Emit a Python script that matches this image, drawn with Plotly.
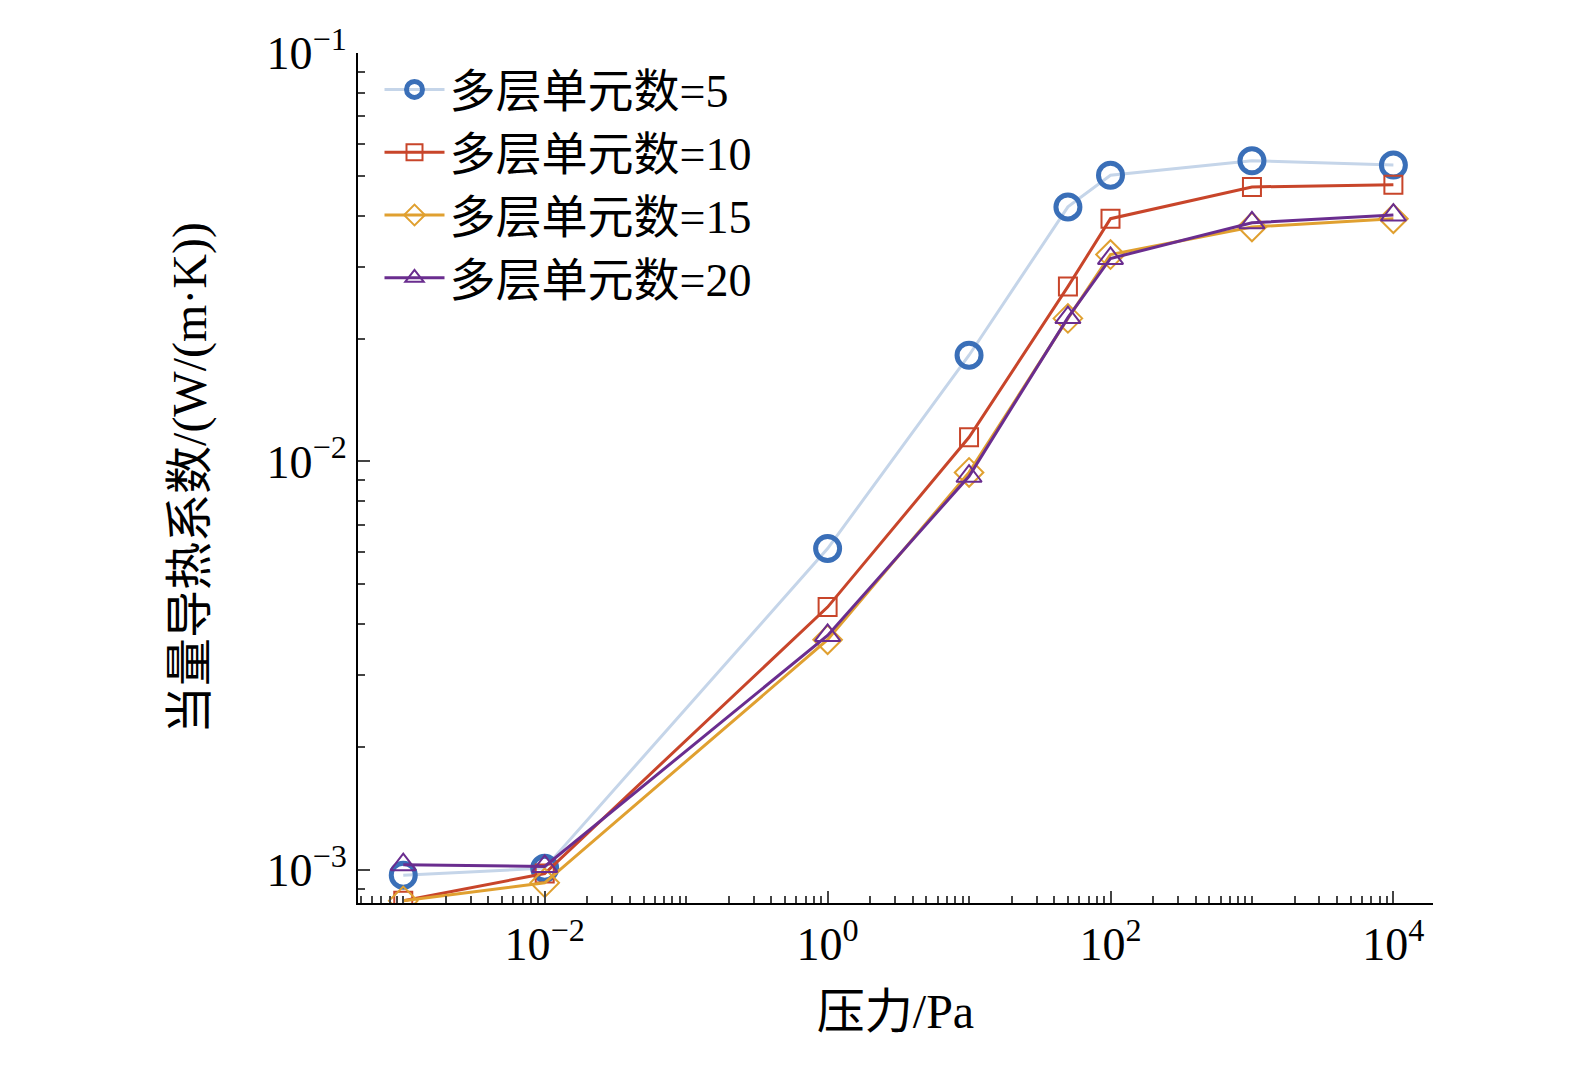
import plotly.graph_objects as go

pressure = [1e-3, 1e-2, 1, 10, 50, 100, 1000, 10000]
k5 = [0.00097, 0.00101, 0.00612, 0.0182, 0.042, 0.0502, 0.0545, 0.0532]
k10 = [0.00084, 0.00098, 0.0044, 0.01146, 0.0268, 0.0393, 0.047, 0.0476]
k15 = [0.00084, 0.00093, 0.00366, 0.0094, 0.0224, 0.0321, 0.0375, 0.0393]
k20 = [0.00103, 0.00102, 0.00375, 0.0092, 0.0225, 0.0314, 0.0384, 0.0401]
names = ["多层单元数=5", "多层单元数=10", "多层单元数=15", "多层单元数=20"]

styles = [
    (k5, "#c5d5e9", "#3a6fb8", "circle-open", 24, 5),
    (k10, "#c8452a", "#c8452a", "square-open", 18, 2),
    (k15, "#e0a030", "#e0a030", "diamond-open", 22, 2),
    (k20, "#6a2d8f", "#6a2d8f", "triangle-up-open", 22, 2),
]

fig = go.Figure()
for name, (vals, lc, mc, sym, sz, mw) in zip(names, styles):
    fig.add_trace(go.Scatter(
        x=pressure, y=vals, name=name, mode="lines+markers",
        line=dict(color=lc, width=3),
        marker=dict(symbol=sym, size=sz, color=mc, line=dict(color=mc, width=mw)),
    ))

font = "Liberation Serif, Noto Sans CJK SC"
fig.update_layout(
    width=1575, height=1065,
    paper_bgcolor="white", plot_bgcolor="white",
    margin=dict(l=350, r=150, t=45, b=170),
    font=dict(family=font, size=46, color="black"),
    legend=dict(x=0.02, y=1.0, xanchor="left", yanchor="top",
                font=dict(size=46), bgcolor="rgba(0,0,0,0)", tracegroupgap=0,
                itemwidth=60),
    xaxis=dict(
        type="log", range=[-3.32, 4.28], showgrid=False, zeroline=False,
        showline=True, linecolor="black", linewidth=2,
        ticks="inside", ticklen=12, tickwidth=2,
        tickvals=[1e-2, 1, 1e2, 1e4],
        ticktext=["10<sup>−2</sup>", "10<sup>0</sup>", "10<sup>2</sup>", "10<sup>4</sup>"],
        minor=dict(ticks="inside", ticklen=7, tickwidth=1.5, dtick="D1"),
        title=dict(text="压力/Pa", font=dict(size=48), standoff=25),
    ),
    yaxis=dict(
        type="log", range=[-3.081, -1], showgrid=False, zeroline=False,
        showline=True, linecolor="black", linewidth=2,
        ticks="inside", ticklen=12, tickwidth=2,
        tickvals=[1e-3, 1e-2, 1e-1],
        ticktext=["10<sup>−3</sup>", "10<sup>−2</sup>", "10<sup>−1</sup>"],
        minor=dict(ticks="inside", ticklen=7, tickwidth=1.5, dtick="D1"),
        title=dict(text="当量导热系数/(W/(m·K))", font=dict(size=48), standoff=45),
    ),
)

fig.write_html("out.html")
